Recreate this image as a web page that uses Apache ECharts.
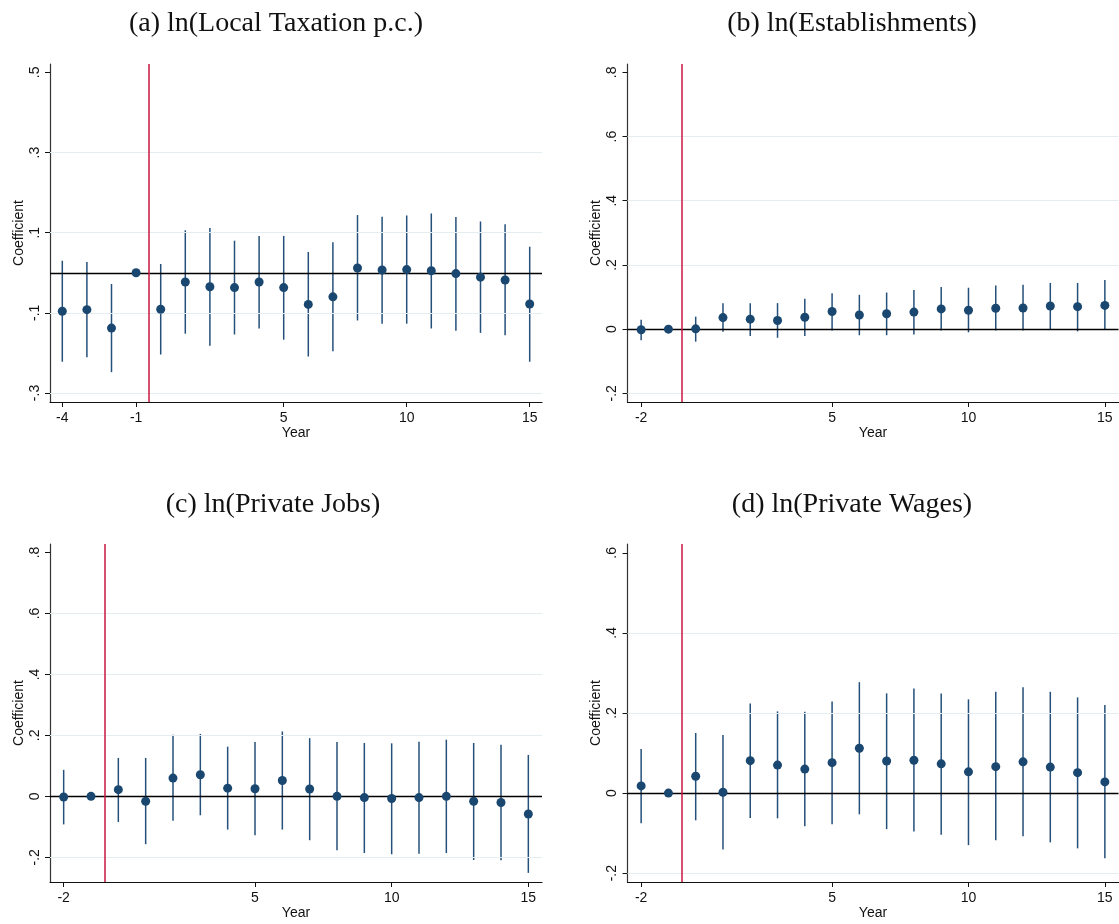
<!DOCTYPE html>
<html>
<head>
<meta charset="utf-8">
<script src="https://cdn.jsdelivr.net/npm/echarts@6/dist/echarts.min.js"></script>
<style>
html,body{margin:0;padding:0;background:#fff;}
#chart{width:1119px;height:924px;}
</style>
</head>
<body>
<div id="chart"></div>
<script>
// ---------- data ----------
const yearsA = [-4,-3,-2,-1,0,1,2,3,4,5,6,7,8,9,10,11,12,13,14,15];
const coefA  = [-0.096,-0.092,-0.138,0,-0.091,-0.023,-0.035,-0.037,-0.023,-0.037,-0.079,-0.060,0.012,0.007,0.008,0.005,-0.002,-0.011,-0.018,-0.078];
const hiA    = [0.030,0.027,-0.028,null,0.022,0.106,0.112,0.080,0.092,0.092,0.052,0.076,0.144,0.140,0.143,0.148,0.139,0.128,0.121,0.065];
const loA    = [-0.222,-0.211,-0.248,null,-0.204,-0.152,-0.182,-0.154,-0.139,-0.167,-0.209,-0.196,-0.119,-0.127,-0.127,-0.139,-0.145,-0.150,-0.156,-0.222];

const yearsB = [-2,-1,0,1,2,3,4,5,6,7,8,9,10,11,12,13,14,15];
const coefB  = [-0.002,0,0.001,0.036,0.031,0.027,0.037,0.055,0.044,0.048,0.053,0.063,0.059,0.065,0.066,0.072,0.070,0.074];
const hiB    = [0.029,null,0.039,0.081,0.081,0.081,0.095,0.112,0.107,0.114,0.122,0.131,0.129,0.136,0.138,0.144,0.144,0.153];
const loB    = [-0.035,null,-0.039,-0.008,-0.021,-0.027,-0.021,-0.004,-0.019,-0.019,-0.017,-0.004,-0.010,-0.004,-0.004,0.000,-0.007,-0.003];

const yearsC = [-2,-1,0,1,2,3,4,5,6,7,8,9,10,11,12,13,14,15];
const coefC  = [-0.002,0,0.022,-0.016,0.060,0.071,0.027,0.025,0.052,0.024,0.000,-0.004,-0.007,-0.004,0.000,-0.016,-0.020,-0.058];
const hiC    = [0.087,null,0.126,0.126,0.202,0.205,0.163,0.178,0.213,0.191,0.178,0.175,0.174,0.179,0.186,0.175,0.169,0.136];
const loC    = [-0.092,null,-0.084,-0.157,-0.080,-0.062,-0.109,-0.128,-0.109,-0.144,-0.177,-0.186,-0.190,-0.188,-0.186,-0.209,-0.210,-0.251];

const yearsD = [-2,-1,0,1,2,3,4,5,6,7,8,9,10,11,12,13,14,15];
const coefD  = [0.018,0,0.042,0.002,0.081,0.070,0.060,0.076,0.112,0.080,0.082,0.073,0.053,0.066,0.078,0.065,0.051,0.028];
const hiD    = [0.110,null,0.150,0.145,0.224,0.204,0.203,0.229,0.277,0.249,0.261,0.249,0.234,0.253,0.264,0.253,0.239,0.220];
const loD    = [-0.075,null,-0.068,-0.141,-0.062,-0.063,-0.083,-0.078,-0.053,-0.090,-0.096,-0.104,-0.130,-0.118,-0.108,-0.123,-0.138,-0.163];

const titles = ['(a) ln(Local Taxation p.c.)','(b) ln(Establishments)','(c) ln(Private Jobs)','(d) ln(Private Wages)'];
const xTicksA = [-4,-1,5,10,15];
const xTicksB = [-2,5,10,15];
const yTicksA = [-0.3,-0.1,0.1,0.3,0.5];
const yTicksB = [-0.2,0,0.2,0.4,0.6,0.8];
const yTicksC = [-0.2,0,0.2,0.4,0.6,0.8];
const yTicksD = [-0.2,0,0.2,0.4,0.6];
const treatLine = -0.5;

// ---------- layout / style ----------
const panels = [
  {years:yearsA, coef:coefA, hi:hiA, lo:loA, xt:xTicksA, yt:yTicksA, xmin:-4.5, xmax:15.5, ymin:-0.3225, ymax:0.521,
   grid:{left:50, right:577, top:64, height:338}, tx:271, ty:5},
  {years:yearsB, coef:coefB, hi:hiB, lo:loB, xt:xTicksB, yt:yTicksB, xmin:-2.5, xmax:15.5, ymin:-0.227, ymax:0.826,
   grid:{left:627.5, right:0.5, top:64, height:338}, tx:847, ty:5},
  {years:yearsC, coef:coefC, hi:hiC, lo:loC, xt:xTicksB, yt:yTicksC, xmin:-2.5, xmax:15.5, ymin:-0.281, ymax:0.828,
   grid:{left:50, right:577, top:544, height:338}, tx:268, ty:486},
  {years:yearsD, coef:coefD, hi:hiD, lo:loD, xt:xTicksB, yt:yTicksD, xmin:-2.5, xmax:15.5, ymin:-0.222, ymax:0.622,
   grid:{left:627.5, right:0.5, top:544, height:338}, tx:847, ty:486}
];

const NAVY = '#1a476f';
const CI = '#24507a';
const RED = '#c8163f';
const GRID = '#e4edef';
const SANS = 'Liberation Sans, Arial, sans-serif';

function fmt(v){
  if (Math.abs(v) < 1e-9) return '0';
  const s = (Math.round(v*10)/10).toString();
  return s.replace('0.', '.');
}

const option = {
  backgroundColor:'#fff',
  animation:false,
  title:[], grid:[], xAxis:[], yAxis:[], series:[]
};

panels.forEach((p, i) => {
  option.title.push({
    text: titles[i], left: p.tx, top: p.ty, textAlign:'center',
    textStyle:{fontFamily:'Liberation Serif, Times New Roman, serif', fontWeight:'normal', fontSize:28, color:'#111'}
  });
  option.grid.push(Object.assign({containLabel:false}, p.grid));
  option.xAxis.push({
    type:'value', gridIndex:i, min:p.xmin, max:p.xmax,
    name:'Year', nameLocation:'middle', nameGap:24,
    nameTextStyle:{fontFamily:SANS, fontSize:14, color:'#111'},
    axisLine:{show:true, onZero:false, lineStyle:{color:'#111', width:1.2}},
    axisTick:{show:true, length:5, customValues:p.xt, lineStyle:{color:'#111'}},
    axisLabel:{customValues:p.xt, margin:9, fontFamily:SANS, fontSize:14, color:'#111', showMinLabel:true, showMaxLabel:true},
    splitLine:{show:false}
  });
  option.yAxis.push({
    type:'value', gridIndex:i, min:p.ymin, max:p.ymax,
    name:'Coefficient', nameLocation:'middle', nameGap:24, nameRotate:90,
    nameTextStyle:{fontFamily:SANS, fontSize:14, color:'#111'},
    axisLine:{show:true, onZero:false, lineStyle:{color:'#333', width:1.2}},
    axisTick:{show:true, length:5, customValues:p.yt, lineStyle:{color:'#111'}},
    axisLabel:{customValues:p.yt, rotate:90, margin:8, fontFamily:SANS, fontSize:14, color:'#111', formatter:fmt},
    splitLine:{show:false}
  });
  // gridlines (under everything)
  option.series.push({
    type:'line', xAxisIndex:i, yAxisIndex:i, data:[], z:1, silent:true,
    markLine:{silent:true, symbol:'none', label:{show:false},
      lineStyle:{color:GRID, width:1, type:'solid'},
      data:p.yt.filter(v => v < p.yt[p.yt.length-1] - 1e-9 && Math.abs(v) > 1e-9).map(v => ({yAxis:v}))}
  });
  // confidence intervals
  const ciData = p.years.map((y, k) => [y, p.lo[k], p.hi[k]]).filter(d => d[1] !== null);
  option.series.push({
    type:'custom', xAxisIndex:i, yAxisIndex:i, z:3, silent:true,
    data: ciData,
    renderItem:function(params, api){
      const a = api.coord([api.value(0), api.value(1)]);
      const b = api.coord([api.value(0), api.value(2)]);
      return {type:'line', shape:{x1:a[0], y1:a[1], x2:b[0], y2:b[1]},
              style:{stroke:CI, lineWidth:1.5}};
    },
    markLine:{silent:true, symbol:'none', label:{show:false},
      data:[
        {yAxis:0, lineStyle:{color:'#000', width:1.3, type:'solid'}},
        {xAxis:treatLine, lineStyle:{color:RED, width:1.5, type:'solid'}}
      ]}
  });
  // point estimates
  option.series.push({
    type:'scatter', xAxisIndex:i, yAxisIndex:i, z:5, silent:true,
    symbol:'circle', symbolSize:9,
    itemStyle:{color:NAVY, opacity:1},
    data: p.years.map((y, k) => [y, p.coef[k]])
  });
});

const chart = echarts.init(document.getElementById('chart'), null, {renderer:'canvas'});
chart.setOption(option);
</script>
</body>
</html>
